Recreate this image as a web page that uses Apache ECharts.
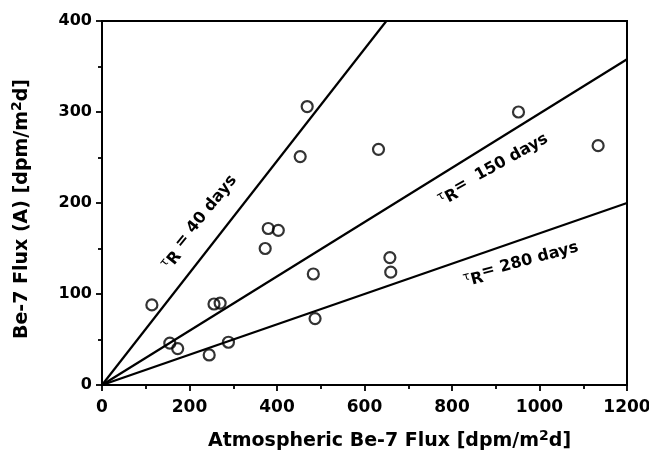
<!DOCTYPE html>
<html>
<head>
<meta charset="utf-8">
<script src="https://cdn.jsdelivr.net/npm/echarts@6/dist/echarts.min.js"></script>
<style>
  html, body { margin: 0; padding: 0; background: #fff; }
  #chart { width: 649px; height: 463px; }
</style>
</head>
<body>
<div id="chart"></div>
<script>
// Atmospheric vs. measured Be-7 flux (dpm/m^2/d)
const atmosphericFlux = [114, 155, 173, 245, 256, 270, 289, 373, 380, 403, 453, 469, 483, 487, 632, 658, 660, 952, 1134];
const measuredFlux    = [88, 46, 40, 33, 89, 90, 47, 150, 172, 170, 251, 306, 122, 73, 259, 140, 124, 300, 263];

// Residence-time reference lines: each runs from the origin to its end value
const residenceDays = [40, 150, 280];
const lineEndX = [650, 1200, 1200];
const lineEndY = [400, 358, 200];

const xTickValues = [0, 200, 400, 600, 800, 1000, 1200];
const yTickValues = [0, 100, 200, 300, 400];

const FONT = 'DejaVu Sans';
const chart = echarts.init(document.getElementById('chart'), null, { renderer: 'canvas' });

const points = atmosphericFlux.map((x, i) => [x, measuredFlux[i]]);

const lineSeries = residenceDays.map((d, i) => ({
  name: 'tau ' + d,
  type: 'line',
  data: [[0, 0], [lineEndX[i], lineEndY[i]]],
  symbol: 'none',
  silent: true,
  clip: true,
  lineStyle: { color: '#000', width: 2.2 },
  z: 2
}));

const axisCommon = {
  type: 'value',
  splitLine: { show: false },
  axisLine: { show: true, lineStyle: { color: '#000', width: 2 } },
  axisTick: { show: true, length: 6, lineStyle: { color: '#000', width: 1.8 } },
  minorTick: { show: true, splitNumber: 2, length: 4, lineStyle: { color: '#000', width: 1.8 } },
  minorSplitLine: { show: false },
  axisLabel: { color: '#000', fontFamily: FONT, fontWeight: 'bold', fontSize: 16, formatter: v => String(v) }
};

const nameRich = {
  a: { fontFamily: FONT, fontWeight: 'bold', fontSize: 19, color: '#000', verticalAlign: 'bottom' },
  s: { fontFamily: FONT, fontWeight: 'bold', fontSize: 14, color: '#000', verticalAlign: 'bottom', padding: [0, 0, 8, 0] }
};

chart.setOption({
  animation: false,
  backgroundColor: '#fff',
  grid: {
    left: 102, right: 22, top: 21, bottom: 78,
    outerBoundsMode: 'none', containLabel: false,
    show: true, borderColor: '#000', borderWidth: 2, backgroundColor: 'transparent'
  },
  xAxis: Object.assign({}, axisCommon, {
    min: xTickValues[0], max: xTickValues[xTickValues.length - 1], interval: 200,
    axisLabel: Object.assign({}, axisCommon.axisLabel, { margin: 14, fontSize: 17 }),
    name: '{a|Atmospheric Be-7 Flux [dpm/m}{s|2}{a|d]}',
    nameLocation: 'middle', nameGap: 44,
    nameTextStyle: { rich: nameRich, padding: [0, 0, 0, 50] }
  }),
  yAxis: Object.assign({}, axisCommon, {
    min: yTickValues[0], max: yTickValues[yTickValues.length - 1], interval: 100,
    axisLabel: Object.assign({}, axisCommon.axisLabel, { margin: 10 }),
    name: '{a|Be-7 Flux (A) [dpm/m}{s|2}{a|d]}',
    nameLocation: 'middle', nameGap: 70, nameRotate: 90,
    nameTextStyle: { rich: nameRich, padding: [0, 12, 0, 0] }
  }),
  series: lineSeries.concat([{
    name: 'Be-7 flux',
    type: 'scatter',
    data: points,
    symbol: 'circle',
    symbolSize: 11,
    itemStyle: { color: 'rgba(0,0,0,0)', borderColor: '#000', borderWidth: 2.2 },
    z: 3
  }])
});

// Rotated "tau_R = N days" captions placed in data space beside each line
const captionRich = {
  t: { fontFamily: FONT, fontSize: 12, color: '#000', verticalAlign: 'bottom', padding: [0, 0, 7, 0] },
  r: { fontFamily: FONT, fontWeight: 'bold', fontSize: 16, color: '#000', verticalAlign: 'bottom' },
  n: { fontFamily: FONT, fontWeight: 'bold', fontSize: 16, color: '#000', verticalAlign: 'bottom', padding: [0, 0, 5, 0] }
};
const captions = [
  { at: [224, 178], angle: 51, text: '{t|τ}{r|R}{n| = ' + residenceDays[0] + ' days}' },
  { at: [895, 236], angle: 29, text: '{t|τ}{r|R}{n|=  ' + residenceDays[1] + ' days}' },
  { at: [958, 132], angle: 15, text: '{t|τ}{r|R}{n|= ' + residenceDays[2] + ' days}' }
];
chart.setOption({
  graphic: captions.map(c => {
    const p = chart.convertToPixel({ gridIndex: 0 }, c.at);
    return {
      type: 'text',
      x: p[0], y: p[1],
      rotation: c.angle * Math.PI / 180,
      silent: true,
      z: 10,
      style: { text: c.text, rich: captionRich, align: 'center', verticalAlign: 'middle' }
    };
  })
});
</script>
</body>
</html>
